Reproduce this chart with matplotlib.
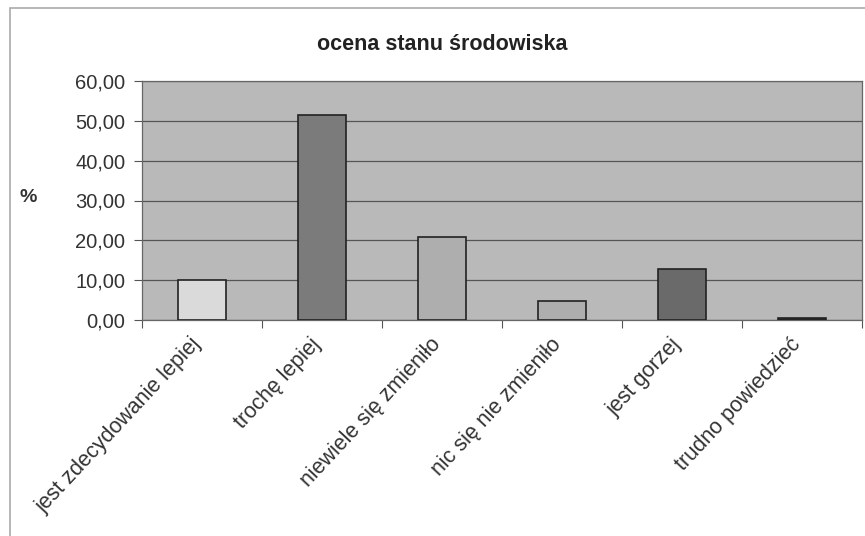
import numpy as np
import matplotlib.pyplot as plt
from matplotlib.patches import Rectangle
from matplotlib.transforms import ScaledTranslation

categories = ['jest zdecydowanie lepiej', 'trochę lepiej', 'niewiele się zmieniło',
              'nic się nie zmieniło', 'jest gorzej', 'trudno powiedzieć']
values = [10.0, 51.5, 20.9, 4.8, 12.8, 0.6]
bar_colors = ['#dadada', '#7b7b7b', '#aeaeae', '#aeaeae', '#6a6a6a', '#333333']
y_ticks = [0, 10, 20, 30, 40, 50, 60]

plt.rcParams['font.family'] = ['Liberation Sans', 'DejaVu Sans']

fig = plt.figure(figsize=(8.65, 5.36), dpi=100)
ax = fig.add_axes([142 / 865, 1 - 320 / 536, 720 / 865, 239 / 536])
ax.set_facecolor('#b9b9ba')

x = np.arange(len(categories))
ax.bar(x, values, width=0.4, color=bar_colors, edgecolor='#222222', linewidth=1.2, zorder=3)

ax.set_xlim(-0.5, len(categories) - 0.5)
ax.set_ylim(0, 60)
ax.set_yticks(y_ticks)
ax.set_yticklabels([f'{v:.2f}'.replace('.', ',') for v in y_ticks], fontsize=14.5, color='#333333')
ax.yaxis.grid(True, color='#555555', linewidth=0.9, zorder=1)

ax.set_xticks(np.arange(-0.5, len(categories), 1.0))
ax.set_xticklabels([])
ax.set_xticks(x, minor=True)
ax.set_xticklabels(categories, minor=True, rotation=47, ha='right', rotation_mode='anchor',
                   fontsize=15.5, color='#333333')
ax.tick_params(axis='x', which='minor', length=0, pad=10)
ax.tick_params(axis='x', which='major', length=6, color='#555555')
ax.tick_params(axis='y', length=6, color='#555555', pad=6)
shift = ScaledTranslation(-12 / 100, 0, fig.dpi_scale_trans)
for lbl in ax.get_xticklabels(minor=True):
    lbl.set_transform(lbl.get_transform() + shift)
for s in ax.spines.values():
    s.set_color('#666666')
    s.set_linewidth(0.9)

fig.text(20 / 865, 1 - 197 / 536, '%', fontsize=14, color='#333333', weight='bold', va='center')
fig.text(442 / 865, 1 - 45 / 536, 'ocena stanu środowiska', fontsize=15.5, weight='bold',
         color='#222222', ha='center', va='center')

fig.patches.append(Rectangle((10 / 865, -0.01), 1, 1 - 8 / 536 + 0.01, transform=fig.transFigure,
                             fill=False, edgecolor='#aaaaaa', linewidth=1.2))

fig.savefig('out.png', dpi=100)
